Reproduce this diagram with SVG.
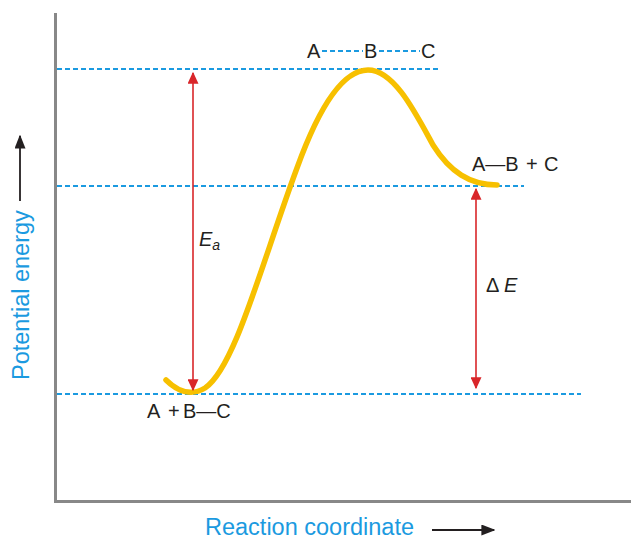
<svg xmlns="http://www.w3.org/2000/svg" width="631" height="539" viewBox="0 0 631 539">
<defs>
<style>
.axis{stroke:#888;stroke-width:3;fill:none}
.dash{stroke:#1b9ae0;stroke-width:2;stroke-dasharray:5,3;fill:none}
.red{stroke:#d9262a;stroke-width:1.6;fill:none}
.lbl{font-family:"Liberation Sans",Arial,sans-serif;font-size:20px;fill:#231f20}
.ax{font-family:"Liberation Sans",Arial,sans-serif;font-size:23.5px;fill:#1b9ae0}
</style>
<marker id="rh" viewBox="0 0 10 10" refX="9" refY="5" markerWidth="12" markerHeight="11" markerUnits="userSpaceOnUse" orient="auto-start-reverse" preserveAspectRatio="none">
<path d="M0,0 L10,5 L0,10 z" fill="#d9262a"/>
</marker>
<marker id="kh" viewBox="0 0 10 10" refX="9" refY="5" markerWidth="14" markerHeight="11" markerUnits="userSpaceOnUse" orient="auto" preserveAspectRatio="none">
<path d="M0,0 L10,5 L0,10 z" fill="#231f20"/>
</marker>
</defs>
<g id="axes">
<line class="axis" x1="55.5" y1="13" x2="55.5" y2="503"/>
<line class="axis" x1="54" y1="501.5" x2="631" y2="501.5"/>
</g>
<g id="levels">
<line class="dash" x1="57" y1="69" x2="438" y2="69"/>
<line class="dash" x1="57" y1="186" x2="524" y2="186"/>
<line class="dash" x1="57" y1="394" x2="581" y2="394"/>
</g>
<g id="curve">
<path d="M166,380 C178,392 192,396 205,388 C235,368 262,262 297,168 C318,110 342,70 368,70 C394,70 415,112 433,145 C450,172 470,185 497,185" stroke="#f7c000" stroke-width="5.5" fill="none" stroke-linecap="round"/>
</g>
<g id="connectors">
<line class="red" x1="193" y1="73" x2="193" y2="390" marker-start="url(#rh)" marker-end="url(#rh)"/>
<line class="red" x1="476" y1="189" x2="476" y2="388" marker-start="url(#rh)" marker-end="url(#rh)"/>
<line stroke="#231f20" stroke-width="1.8" x1="20" y1="201" x2="20" y2="136" marker-end="url(#kh)"/>
<line stroke="#231f20" stroke-width="1.8" x1="432" y1="530" x2="494" y2="530" marker-end="url(#kh)"/>
</g>
<g id="transition">
<text class="lbl" x="307" y="58">A</text>
<line class="dash" x1="322" y1="51" x2="363" y2="51" stroke-width="1.8" stroke-dasharray="3.5,2.2"/>
<text class="lbl" x="364" y="58">B</text>
<line class="dash" x1="379" y1="51" x2="420" y2="51" stroke-width="1.8" stroke-dasharray="3.5,2.2"/>
<text class="lbl" x="421" y="58">C</text>
</g>
<g id="products">
<text class="lbl" x="472" y="171">A—B<tspan x="526">+</tspan><tspan x="544">C</tspan></text>
</g>
<g id="reactants">
<text class="lbl" x="147" y="418">A<tspan x="168">+</tspan><tspan x="183">B—C</tspan></text>
</g>
<g id="ea">
<text class="lbl" x="199" y="246" font-style="italic">E<tspan font-size="14" dy="4">a</tspan></text>
</g>
<g id="de">
<text class="lbl" x="486" y="292">Δ<tspan x="504" font-style="italic">E</tspan></text>
</g>
<g id="ylabel">
<text class="ax" transform="translate(29,380) rotate(-90)">Potential energy</text>
</g>
<g id="xlabel">
<text class="ax" x="205" y="535">Reaction coordinate</text>
</g>
</svg>
